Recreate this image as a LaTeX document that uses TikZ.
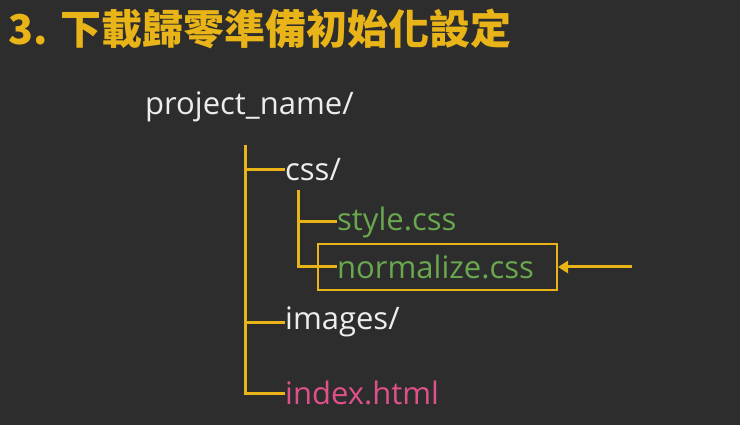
\documentclass[tikz,border=0pt]{standalone}
\usepackage{fontspec}
\setmainfont{Open Sans}
\newfontfamily\cjk{Noto Sans CJK TC}
\usetikzlibrary{arrows.meta}
\definecolor{bg}{HTML}{2D2D2D}
\definecolor{ylw}{HTML}{E8B418}
\definecolor{grn}{HTML}{6AA84F}
\definecolor{pnk}{HTML}{E0508A}
\definecolor{wht}{HTML}{EDEDED}
\tikzset{x=1pt,y=-1pt,
 ln/.style={draw=ylw,line width=3pt},
 item/.style={anchor=west,inner sep=0pt,font=\fontsize{31}{34}\selectfont,text=wht}}
\begin{document}
\begin{tikzpicture}
\fill[bg] (0,0) rectangle (740,425);
\useasboundingbox (0,0) rectangle (740,425);
\node[anchor=west,inner sep=0pt,text=ylw,font=\cjk\bfseries\fontsize{41}{44}\selectfont] (title) at (8,29) {3. 下載歸零準備初始化設定};
\node[item] (root) at (145,107) {project\_name/};
\node[item] (css) at (285,170) {css/};
\node[item,text=grn] (style) at (337,222) {style.css};
\node[item,text=grn] (norm) at (337,267) {normalize.css};
\node[item] (img) at (285,322) {images/};
\node[item,text=pnk] (idx) at (285,393) {index.html};
\draw[ln] (245,145) -- (245,393) -- (idx.west);
\draw[ln] (245,170) -- (css.west);
\draw[ln] (245,322) -- (img.west);
\draw[ln] (298,190) -- (298,267) -- (norm.west);
\draw[ln] (298,222) -- (style.west);
\node[draw=ylw,line width=2pt,minimum width=239pt,minimum height=46pt] (box) at (437.5,267) {};
\coordinate (a) at (632,267);
\draw[ln,-{Triangle[length=10pt,width=12pt]}] (a) -- (box.east);
\end{tikzpicture}
\end{document}
